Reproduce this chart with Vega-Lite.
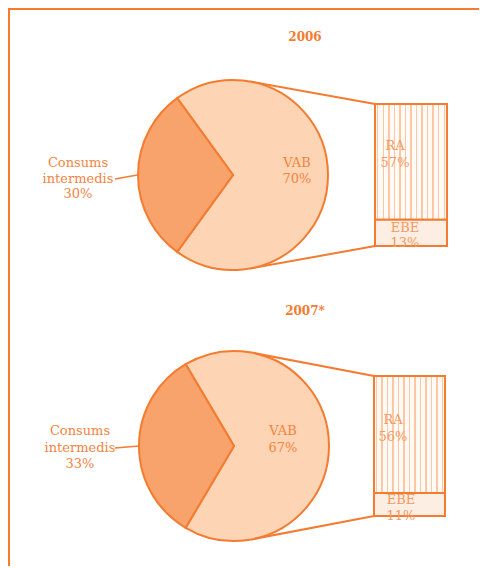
{
  "$schema": "https://vega.github.io/schema/vega-lite/v6.json",
  "padding": 0,
  "spacing": 0,
  "bounds": "flush",
  "background": "#ffffff",
  "config": {"view": {"stroke": null}, "axis": {"disable": true}, "legend": {"disable": true}},
  "datasets": {
    "dades": [
      {"any": "2006", "nivell": "total", "component": "VAB", "pct": 0.70},
      {"any": "2006", "nivell": "total", "component": "Consums intermedis", "pct": 0.30},
      {"any": "2006", "nivell": "VAB", "component": "RA", "pct": 0.57},
      {"any": "2006", "nivell": "VAB", "component": "EBE", "pct": 0.13},
      {"any": "2007*", "nivell": "total", "component": "VAB", "pct": 0.67},
      {"any": "2007*", "nivell": "total", "component": "Consums intermedis", "pct": 0.33},
      {"any": "2007*", "nivell": "VAB", "component": "RA", "pct": 0.56},
      {"any": "2007*", "nivell": "VAB", "component": "EBE", "pct": 0.11}
    ]
  },
  "data": {"name": "dades"},
  "vconcat": [
    {
      "width": 480,
      "height": 270,
      "layer": [
        {
          "data": {"values": [{"element": "marc"}]},
          "mark": {"type": "rule", "color": "#f47b30", "strokeWidth": 2},
          "encoding": {
            "x": {"datum": 1.67, "type": "quantitative", "scale": {"domain": [0, 100], "nice": false, "zero": false}},
            "x2": {"datum": 99.8},
            "y": {"datum": -0.4683, "type": "quantitative", "scale": {"domain": [0, 0.7], "range": [104, 246], "nice": false, "zero": false}}
          }
        },
        {
          "data": {"values": [{"element": "marc"}]},
          "mark": {"type": "rule", "color": "#f47b30", "strokeWidth": 2},
          "encoding": {
            "x": {"datum": 1.875, "type": "quantitative", "scale": {"domain": [0, 100], "nice": false, "zero": false}},
            "y": {"datum": -0.473, "type": "quantitative", "scale": {"domain": [0, 0.7], "range": [104, 246], "nice": false, "zero": false}},
            "y2": {"datum": 2.2775}
          }
        },
        {
          "transform": [{"filter": "datum.any == '2006' && datum.component == 'VAB'"}],
          "mark": {"type": "text", "font": "DejaVu Serif", "fontSize": 12, "fontWeight": "bold", "color": "#f47b30", "align": "center", "baseline": "alphabetic"},
          "encoding": {
            "text": {"field": "any", "type": "nominal"},
            "x": {"datum": 63.54, "type": "quantitative", "scale": {"domain": [0, 100], "nice": false, "zero": false}},
            "y": {"datum": -0.3106, "type": "quantitative", "scale": {"domain": [0, 0.7], "range": [104, 246], "nice": false, "zero": false}}
          }
        },
        {
          "transform": [{"filter": "datum.any == '2006' && datum.component == 'VAB'"}],
          "mark": {"type": "rule", "color": "#f47b30", "strokeWidth": 2},
          "encoding": {
            "x": {"datum": 52.08, "type": "quantitative", "scale": {"domain": [0, 100], "nice": false, "zero": false}},
            "x2": {"datum": 78.125},
            "y": {"datum": -0.111, "type": "quantitative", "scale": {"domain": [0, 0.7], "range": [104, 246], "nice": false, "zero": false}},
            "y2": {"datum": 0}
          }
        },
        {
          "transform": [{"filter": "datum.any == '2006' && datum.component == 'VAB'"}],
          "mark": {"type": "rule", "color": "#f47b30", "strokeWidth": 2},
          "encoding": {
            "x": {"datum": 52.08, "type": "quantitative", "scale": {"domain": [0, 100], "nice": false, "zero": false}},
            "x2": {"datum": 78.125},
            "y": {"datum": 0.811, "type": "quantitative", "scale": {"domain": [0, 0.7], "range": [104, 246], "nice": false, "zero": false}},
            "y2": {"datum": 0.7}
          }
        },
        {
          "transform": [{"filter": "datum.any == '2006' && datum.component == 'VAB'"}],
          "mark": {"type": "rule", "color": "#f47b30", "strokeWidth": 1.5},
          "encoding": {
            "x": {"datum": 23.96, "type": "quantitative", "scale": {"domain": [0, 100], "nice": false, "zero": false}},
            "x2": {"datum": 28.6},
            "y": {"datum": 0.3697, "type": "quantitative", "scale": {"domain": [0, 0.7], "range": [104, 246], "nice": false, "zero": false}},
            "y2": {"datum": 0.35}
          }
        },
        {
          "transform": [
            {"filter": "datum.any == '2006' && datum.nivell == 'total'"},
            {"stack": "pct", "groupby": ["any"], "sort": [{"field": "pct", "order": "descending"}], "as": ["t0", "t1"]}
          ],
          "mark": {"type": "arc", "outerRadius": 95, "stroke": "#f47b30", "strokeWidth": 2},
          "encoding": {
            "theta": {"field": "t0", "type": "quantitative", "scale": {"domain": [0, 1], "range": [-0.6283, 5.6549]}},
            "theta2": {"field": "t1"},
            "color": {"field": "component", "type": "nominal", "scale": {"domain": ["VAB", "Consums intermedis"], "range": ["#fdd4b4", "#f8a36b"]}, "legend": null},
            "x": {"datum": 48.54, "type": "quantitative", "stack": null, "scale": {"domain": [0, 100], "nice": false, "zero": false}},
            "y": {"datum": 0.35, "type": "quantitative", "stack": null, "scale": {"domain": [0, 0.7], "range": [104, 246], "nice": false, "zero": false}}
          }
        },
        {
          "transform": [
            {"filter": "datum.any == '2006' && datum.nivell == 'VAB'"},
            {"stack": "pct", "groupby": ["any"], "sort": [{"field": "pct", "order": "descending"}], "as": ["y0", "y1"]}
          ],
          "layer": [
            {
              "transform": [{"filter": "datum.component == 'RA'"}],
              "mark": {"type": "rect", "stroke": "#f47b30", "strokeWidth": 2,
                "fill": {"gradient": "linear", "x1": 0, "y1": 0, "x2": 1, "y2": 0, "stops": [
                  {"offset": 0, "color": "#fffaf5"},
                  {"offset": 0.0285, "color": "#fffaf5"}, {"offset": 0.0285, "color": "#fcc8a4"}, {"offset": 0.0485, "color": "#fcc8a4"}, {"offset": 0.0485, "color": "#fffaf5"},
                  {"offset": 0.1054, "color": "#fffaf5"}, {"offset": 0.1054, "color": "#fcc8a4"}, {"offset": 0.1254, "color": "#fcc8a4"}, {"offset": 0.1254, "color": "#fffaf5"},
                  {"offset": 0.1823, "color": "#fffaf5"}, {"offset": 0.1823, "color": "#fcc8a4"}, {"offset": 0.2023, "color": "#fcc8a4"}, {"offset": 0.2023, "color": "#fffaf5"},
                  {"offset": 0.2592, "color": "#fffaf5"}, {"offset": 0.2592, "color": "#fcc8a4"}, {"offset": 0.2792, "color": "#fcc8a4"}, {"offset": 0.2792, "color": "#fffaf5"},
                  {"offset": 0.3362, "color": "#fffaf5"}, {"offset": 0.3362, "color": "#fcc8a4"}, {"offset": 0.3562, "color": "#fcc8a4"}, {"offset": 0.3562, "color": "#fffaf5"},
                  {"offset": 0.4131, "color": "#fffaf5"}, {"offset": 0.4131, "color": "#fcc8a4"}, {"offset": 0.4331, "color": "#fcc8a4"}, {"offset": 0.4331, "color": "#fffaf5"},
                  {"offset": 0.4900, "color": "#fffaf5"}, {"offset": 0.4900, "color": "#fcc8a4"}, {"offset": 0.5100, "color": "#fcc8a4"}, {"offset": 0.5100, "color": "#fffaf5"},
                  {"offset": 0.5669, "color": "#fffaf5"}, {"offset": 0.5669, "color": "#fcc8a4"}, {"offset": 0.5869, "color": "#fcc8a4"}, {"offset": 0.5869, "color": "#fffaf5"},
                  {"offset": 0.6438, "color": "#fffaf5"}, {"offset": 0.6438, "color": "#fcc8a4"}, {"offset": 0.6638, "color": "#fcc8a4"}, {"offset": 0.6638, "color": "#fffaf5"},
                  {"offset": 0.7208, "color": "#fffaf5"}, {"offset": 0.7208, "color": "#fcc8a4"}, {"offset": 0.7408, "color": "#fcc8a4"}, {"offset": 0.7408, "color": "#fffaf5"},
                  {"offset": 0.7977, "color": "#fffaf5"}, {"offset": 0.7977, "color": "#fcc8a4"}, {"offset": 0.8177, "color": "#fcc8a4"}, {"offset": 0.8177, "color": "#fffaf5"},
                  {"offset": 0.8746, "color": "#fffaf5"}, {"offset": 0.8746, "color": "#fcc8a4"}, {"offset": 0.8946, "color": "#fcc8a4"}, {"offset": 0.8946, "color": "#fffaf5"},
                  {"offset": 0.9515, "color": "#fffaf5"}, {"offset": 0.9515, "color": "#fcc8a4"}, {"offset": 0.9715, "color": "#fcc8a4"}, {"offset": 0.9715, "color": "#fffaf5"},
                  {"offset": 1, "color": "#fffaf5"}
                ]}},
              "encoding": {
                "x": {"datum": 78.125, "type": "quantitative", "scale": {"domain": [0, 100], "nice": false, "zero": false}},
                "x2": {"datum": 93.125},
                "y": {"field": "y0", "type": "quantitative", "scale": {"domain": [0, 0.7], "range": [104, 246], "nice": false, "zero": false}},
                "y2": {"field": "y1"}
              }
            },
            {
              "transform": [{"filter": "datum.component == 'EBE'"}],
              "mark": {"type": "rect", "stroke": "#f47b30", "strokeWidth": 2, "fill": "#fdeee3"},
              "encoding": {
                "x": {"datum": 78.125, "type": "quantitative", "scale": {"domain": [0, 100], "nice": false, "zero": false}},
                "x2": {"datum": 93.125},
                "y": {"field": "y0", "type": "quantitative", "scale": {"domain": [0, 0.7], "range": [104, 246], "nice": false, "zero": false}},
                "y2": {"field": "y1"}
              }
            }
          ]
        },
        {
          "transform": [{"filter": "datum.any == '2006' && datum.component == 'Consums intermedis'"}],
          "mark": {"type": "text", "font": "DejaVu Serif", "fontSize": 13, "color": "#f4843f", "align": "center", "baseline": "alphabetic", "lineBreak": " ", "lineHeight": 15.5},
          "encoding": {
            "text": {"field": "component", "type": "nominal"},
            "x": {"datum": 16.25, "type": "quantitative", "scale": {"domain": [0, 100], "nice": false, "zero": false}},
            "y": {"datum": 0.3106, "type": "quantitative", "scale": {"domain": [0, 0.7], "range": [104, 246], "nice": false, "zero": false}}
          }
        },
        {
          "transform": [{"filter": "datum.any == '2006' && datum.component == 'Consums intermedis'"}],
          "mark": {"type": "text", "font": "DejaVu Serif", "fontSize": 13, "color": "#f4843f", "align": "center", "baseline": "alphabetic"},
          "encoding": {
            "text": {"field": "pct", "type": "quantitative", "format": ".0%"},
            "x": {"datum": 16.25, "type": "quantitative", "scale": {"domain": [0, 100], "nice": false, "zero": false}},
            "y": {"datum": 0.4634, "type": "quantitative", "scale": {"domain": [0, 0.7], "range": [104, 246], "nice": false, "zero": false}}
          }
        },
        {
          "transform": [{"filter": "datum.any == '2006' && datum.component == 'VAB'"}],
          "mark": {"type": "text", "font": "DejaVu Serif", "fontSize": 13, "color": "#f4843f", "align": "center", "baseline": "alphabetic"},
          "encoding": {
            "text": {"field": "component", "type": "nominal"},
            "x": {"datum": 61.875, "type": "quantitative", "scale": {"domain": [0, 100], "nice": false, "zero": false}},
            "y": {"datum": 0.3106, "type": "quantitative", "scale": {"domain": [0, 0.7], "range": [104, 246], "nice": false, "zero": false}}
          }
        },
        {
          "transform": [{"filter": "datum.any == '2006' && datum.component == 'VAB'"}],
          "mark": {"type": "text", "font": "DejaVu Serif", "fontSize": 13, "color": "#f4843f", "align": "center", "baseline": "alphabetic"},
          "encoding": {
            "text": {"field": "pct", "type": "quantitative", "format": ".0%"},
            "x": {"datum": 61.875, "type": "quantitative", "scale": {"domain": [0, 100], "nice": false, "zero": false}},
            "y": {"datum": 0.3894, "type": "quantitative", "scale": {"domain": [0, 0.7], "range": [104, 246], "nice": false, "zero": false}}
          }
        },
        {
          "transform": [{"filter": "datum.any == '2006' && datum.component == 'RA'"}],
          "mark": {"type": "text", "font": "DejaVu Serif", "fontSize": 13, "color": "#f7995f", "align": "center", "baseline": "alphabetic"},
          "encoding": {
            "text": {"field": "component", "type": "nominal"},
            "x": {"datum": 82.3, "type": "quantitative", "scale": {"domain": [0, 100], "nice": false, "zero": false}},
            "y": {"datum": 0.2268, "type": "quantitative", "scale": {"domain": [0, 0.7], "range": [104, 246], "nice": false, "zero": false}}
          }
        },
        {
          "transform": [{"filter": "datum.any == '2006' && datum.component == 'RA'"}],
          "mark": {"type": "text", "font": "DejaVu Serif", "fontSize": 13, "color": "#f7995f", "align": "center", "baseline": "alphabetic"},
          "encoding": {
            "text": {"field": "pct", "type": "quantitative", "format": ".0%"},
            "x": {"datum": 82.3, "type": "quantitative", "scale": {"domain": [0, 100], "nice": false, "zero": false}},
            "y": {"datum": 0.3106, "type": "quantitative", "scale": {"domain": [0, 0.7], "range": [104, 246], "nice": false, "zero": false}}
          }
        },
        {
          "transform": [{"filter": "datum.any == '2006' && datum.component == 'EBE'"}],
          "mark": {"type": "text", "font": "DejaVu Serif", "fontSize": 13, "color": "#f7995f", "align": "center", "baseline": "alphabetic"},
          "encoding": {
            "text": {"field": "component", "type": "nominal"},
            "x": {"datum": 84.375, "type": "quantitative", "scale": {"domain": [0, 100], "nice": false, "zero": false}},
            "y": {"datum": 0.631, "type": "quantitative", "scale": {"domain": [0, 0.7], "range": [104, 246], "nice": false, "zero": false}}
          }
        },
        {
          "transform": [{"filter": "datum.any == '2006' && datum.component == 'EBE'"}],
          "mark": {"type": "text", "font": "DejaVu Serif", "fontSize": 13, "color": "#f7995f", "align": "center", "baseline": "alphabetic"},
          "encoding": {
            "text": {"field": "pct", "type": "quantitative", "format": ".0%"},
            "x": {"datum": 84.375, "type": "quantitative", "scale": {"domain": [0, 100], "nice": false, "zero": false}},
            "y": {"datum": 0.705, "type": "quantitative", "scale": {"domain": [0, 0.7], "range": [104, 246], "nice": false, "zero": false}}
          }
        }
      ]
    },
    {
      "width": 480,
      "height": 298,
      "layer": [
        {
          "transform": [{"filter": "datum.any == '2007*' && datum.component == 'VAB'"}],
          "mark": {"type": "text", "font": "DejaVu Serif", "fontSize": 12, "fontWeight": "bold", "color": "#f47b30", "align": "center", "baseline": "alphabetic"},
          "encoding": {
            "text": {"field": "any", "type": "nominal"},
            "x": {"datum": 63.54, "type": "quantitative", "scale": {"domain": [0, 100], "nice": false, "zero": false}},
            "y": {"datum": -0.2919, "type": "quantitative", "scale": {"domain": [0, 0.67], "range": [106, 246], "nice": false, "zero": false}}
          }
        },
        {
          "transform": [{"filter": "datum.any == '2007*' && datum.component == 'VAB'"}],
          "mark": {"type": "rule", "color": "#f47b30", "strokeWidth": 2},
          "encoding": {
            "x": {"datum": 52.46, "type": "quantitative", "scale": {"domain": [0, 100], "nice": false, "zero": false}},
            "x2": {"datum": 77.92},
            "y": {"datum": -0.1115, "type": "quantitative", "scale": {"domain": [0, 0.67], "range": [106, 246], "nice": false, "zero": false}},
            "y2": {"datum": 0}
          }
        },
        {
          "transform": [{"filter": "datum.any == '2007*' && datum.component == 'VAB'"}],
          "mark": {"type": "rule", "color": "#f47b30", "strokeWidth": 2},
          "encoding": {
            "x": {"datum": 52.46, "type": "quantitative", "scale": {"domain": [0, 100], "nice": false, "zero": false}},
            "x2": {"datum": 77.92},
            "y": {"datum": 0.7815, "type": "quantitative", "scale": {"domain": [0, 0.67], "range": [106, 246], "nice": false, "zero": false}},
            "y2": {"datum": 0.67}
          }
        },
        {
          "transform": [{"filter": "datum.any == '2007*' && datum.component == 'VAB'"}],
          "mark": {"type": "rule", "color": "#f47b30", "strokeWidth": 1.5},
          "encoding": {
            "x": {"datum": 23.96, "type": "quantitative", "scale": {"domain": [0, 100], "nice": false, "zero": false}},
            "x2": {"datum": 29.0},
            "y": {"datum": 0.3446, "type": "quantitative", "scale": {"domain": [0, 0.67], "range": [106, 246], "nice": false, "zero": false}},
            "y2": {"datum": 0.335}
          }
        },
        {
          "transform": [
            {"filter": "datum.any == '2007*' && datum.nivell == 'total'"},
            {"stack": "pct", "groupby": ["any"], "sort": [{"field": "pct", "order": "descending"}], "as": ["t0", "t1"]}
          ],
          "mark": {"type": "arc", "outerRadius": 95, "stroke": "#f47b30", "strokeWidth": 2},
          "encoding": {
            "theta": {"field": "t0", "type": "quantitative", "scale": {"domain": [0, 1], "range": [-0.5341, 5.7491]}},
            "theta2": {"field": "t1"},
            "color": {"field": "component", "type": "nominal", "scale": {"domain": ["VAB", "Consums intermedis"], "range": ["#fdd4b4", "#f8a36b"]}, "legend": null},
            "x": {"datum": 48.75, "type": "quantitative", "stack": null, "scale": {"domain": [0, 100], "nice": false, "zero": false}},
            "y": {"datum": 0.335, "type": "quantitative", "stack": null, "scale": {"domain": [0, 0.67], "range": [106, 246], "nice": false, "zero": false}}
          }
        },
        {
          "transform": [
            {"filter": "datum.any == '2007*' && datum.nivell == 'VAB'"},
            {"stack": "pct", "groupby": ["any"], "sort": [{"field": "pct", "order": "descending"}], "as": ["y0", "y1"]}
          ],
          "layer": [
            {
              "transform": [{"filter": "datum.component == 'RA'"}],
              "mark": {"type": "rect", "stroke": "#f47b30", "strokeWidth": 2,
                "fill": {"gradient": "linear", "x1": 0, "y1": 0, "x2": 1, "y2": 0, "stops": [
                  {"offset": 0, "color": "#fffaf5"},
                  {"offset": 0.0285, "color": "#fffaf5"}, {"offset": 0.0285, "color": "#fcc8a4"}, {"offset": 0.0485, "color": "#fcc8a4"}, {"offset": 0.0485, "color": "#fffaf5"},
                  {"offset": 0.1054, "color": "#fffaf5"}, {"offset": 0.1054, "color": "#fcc8a4"}, {"offset": 0.1254, "color": "#fcc8a4"}, {"offset": 0.1254, "color": "#fffaf5"},
                  {"offset": 0.1823, "color": "#fffaf5"}, {"offset": 0.1823, "color": "#fcc8a4"}, {"offset": 0.2023, "color": "#fcc8a4"}, {"offset": 0.2023, "color": "#fffaf5"},
                  {"offset": 0.2592, "color": "#fffaf5"}, {"offset": 0.2592, "color": "#fcc8a4"}, {"offset": 0.2792, "color": "#fcc8a4"}, {"offset": 0.2792, "color": "#fffaf5"},
                  {"offset": 0.3362, "color": "#fffaf5"}, {"offset": 0.3362, "color": "#fcc8a4"}, {"offset": 0.3562, "color": "#fcc8a4"}, {"offset": 0.3562, "color": "#fffaf5"},
                  {"offset": 0.4131, "color": "#fffaf5"}, {"offset": 0.4131, "color": "#fcc8a4"}, {"offset": 0.4331, "color": "#fcc8a4"}, {"offset": 0.4331, "color": "#fffaf5"},
                  {"offset": 0.4900, "color": "#fffaf5"}, {"offset": 0.4900, "color": "#fcc8a4"}, {"offset": 0.5100, "color": "#fcc8a4"}, {"offset": 0.5100, "color": "#fffaf5"},
                  {"offset": 0.5669, "color": "#fffaf5"}, {"offset": 0.5669, "color": "#fcc8a4"}, {"offset": 0.5869, "color": "#fcc8a4"}, {"offset": 0.5869, "color": "#fffaf5"},
                  {"offset": 0.6438, "color": "#fffaf5"}, {"offset": 0.6438, "color": "#fcc8a4"}, {"offset": 0.6638, "color": "#fcc8a4"}, {"offset": 0.6638, "color": "#fffaf5"},
                  {"offset": 0.7208, "color": "#fffaf5"}, {"offset": 0.7208, "color": "#fcc8a4"}, {"offset": 0.7408, "color": "#fcc8a4"}, {"offset": 0.7408, "color": "#fffaf5"},
                  {"offset": 0.7977, "color": "#fffaf5"}, {"offset": 0.7977, "color": "#fcc8a4"}, {"offset": 0.8177, "color": "#fcc8a4"}, {"offset": 0.8177, "color": "#fffaf5"},
                  {"offset": 0.8746, "color": "#fffaf5"}, {"offset": 0.8746, "color": "#fcc8a4"}, {"offset": 0.8946, "color": "#fcc8a4"}, {"offset": 0.8946, "color": "#fffaf5"},
                  {"offset": 0.9515, "color": "#fffaf5"}, {"offset": 0.9515, "color": "#fcc8a4"}, {"offset": 0.9715, "color": "#fcc8a4"}, {"offset": 0.9715, "color": "#fffaf5"},
                  {"offset": 1, "color": "#fffaf5"}
                ]}},
              "encoding": {
                "x": {"datum": 77.92, "type": "quantitative", "scale": {"domain": [0, 100], "nice": false, "zero": false}},
                "x2": {"datum": 92.71},
                "y": {"field": "y0", "type": "quantitative", "scale": {"domain": [0, 0.67], "range": [106, 246], "nice": false, "zero": false}},
                "y2": {"field": "y1"}
              }
            },
            {
              "transform": [{"filter": "datum.component == 'EBE'"}],
              "mark": {"type": "rect", "stroke": "#f47b30", "strokeWidth": 2, "fill": "#fdeee3"},
              "encoding": {
                "x": {"datum": 77.92, "type": "quantitative", "scale": {"domain": [0, 100], "nice": false, "zero": false}},
                "x2": {"datum": 92.71},
                "y": {"field": "y0", "type": "quantitative", "scale": {"domain": [0, 0.67], "range": [106, 246], "nice": false, "zero": false}},
                "y2": {"field": "y1"}
              }
            }
          ]
        },
        {
          "transform": [{"filter": "datum.any == '2007*' && datum.component == 'Consums intermedis'"}],
          "mark": {"type": "text", "font": "DejaVu Serif", "fontSize": 13, "color": "#f4843f", "align": "center", "baseline": "alphabetic", "lineBreak": " ", "lineHeight": 16.5},
          "encoding": {
            "text": {"field": "component", "type": "nominal"},
            "x": {"datum": 16.67, "type": "quantitative", "scale": {"domain": [0, 100], "nice": false, "zero": false}},
            "y": {"datum": 0.2824, "type": "quantitative", "scale": {"domain": [0, 0.67], "range": [106, 246], "nice": false, "zero": false}}
          }
        },
        {
          "transform": [{"filter": "datum.any == '2007*' && datum.component == 'Consums intermedis'"}],
          "mark": {"type": "text", "font": "DejaVu Serif", "fontSize": 13, "color": "#f4843f", "align": "center", "baseline": "alphabetic"},
          "encoding": {
            "text": {"field": "pct", "type": "quantitative", "format": ".0%"},
            "x": {"datum": 16.67, "type": "quantitative", "scale": {"domain": [0, 100], "nice": false, "zero": false}},
            "y": {"datum": 0.4403, "type": "quantitative", "scale": {"domain": [0, 0.67], "range": [106, 246], "nice": false, "zero": false}}
          }
        },
        {
          "transform": [{"filter": "datum.any == '2007*' && datum.component == 'VAB'"}],
          "mark": {"type": "text", "font": "DejaVu Serif", "fontSize": 13, "color": "#f4843f", "align": "center", "baseline": "alphabetic"},
          "encoding": {
            "text": {"field": "component", "type": "nominal"},
            "x": {"datum": 58.96, "type": "quantitative", "scale": {"domain": [0, 100], "nice": false, "zero": false}},
            "y": {"datum": 0.2824, "type": "quantitative", "scale": {"domain": [0, 0.67], "range": [106, 246], "nice": false, "zero": false}}
          }
        },
        {
          "transform": [{"filter": "datum.any == '2007*' && datum.component == 'VAB'"}],
          "mark": {"type": "text", "font": "DejaVu Serif", "fontSize": 13, "color": "#f4843f", "align": "center", "baseline": "alphabetic"},
          "encoding": {
            "text": {"field": "pct", "type": "quantitative", "format": ".0%"},
            "x": {"datum": 58.96, "type": "quantitative", "scale": {"domain": [0, 100], "nice": false, "zero": false}},
            "y": {"datum": 0.3637, "type": "quantitative", "scale": {"domain": [0, 0.67], "range": [106, 246], "nice": false, "zero": false}}
          }
        },
        {
          "transform": [{"filter": "datum.any == '2007*' && datum.component == 'RA'"}],
          "mark": {"type": "text", "font": "DejaVu Serif", "fontSize": 13, "color": "#f7995f", "align": "center", "baseline": "alphabetic"},
          "encoding": {
            "text": {"field": "component", "type": "nominal"},
            "x": {"datum": 81.875, "type": "quantitative", "scale": {"domain": [0, 100], "nice": false, "zero": false}},
            "y": {"datum": 0.2297, "type": "quantitative", "scale": {"domain": [0, 0.67], "range": [106, 246], "nice": false, "zero": false}}
          }
        },
        {
          "transform": [{"filter": "datum.any == '2007*' && datum.component == 'RA'"}],
          "mark": {"type": "text", "font": "DejaVu Serif", "fontSize": 13, "color": "#f7995f", "align": "center", "baseline": "alphabetic"},
          "encoding": {
            "text": {"field": "pct", "type": "quantitative", "format": ".0%"},
            "x": {"datum": 81.875, "type": "quantitative", "scale": {"domain": [0, 100], "nice": false, "zero": false}},
            "y": {"datum": 0.3111, "type": "quantitative", "scale": {"domain": [0, 0.67], "range": [106, 246], "nice": false, "zero": false}}
          }
        },
        {
          "transform": [{"filter": "datum.any == '2007*' && datum.component == 'EBE'"}],
          "mark": {"type": "text", "font": "DejaVu Serif", "fontSize": 13, "color": "#f7995f", "align": "center", "baseline": "alphabetic"},
          "encoding": {
            "text": {"field": "component", "type": "nominal"},
            "x": {"datum": 83.54, "type": "quantitative", "scale": {"domain": [0, 100], "nice": false, "zero": false}},
            "y": {"datum": 0.6126, "type": "quantitative", "scale": {"domain": [0, 0.67], "range": [106, 246], "nice": false, "zero": false}}
          }
        },
        {
          "transform": [{"filter": "datum.any == '2007*' && datum.component == 'EBE'"}],
          "mark": {"type": "text", "font": "DejaVu Serif", "fontSize": 13, "color": "#f7995f", "align": "center", "baseline": "alphabetic"},
          "encoding": {
            "text": {"field": "pct", "type": "quantitative", "format": ".0%"},
            "x": {"datum": 83.54, "type": "quantitative", "scale": {"domain": [0, 100], "nice": false, "zero": false}},
            "y": {"datum": 0.6891, "type": "quantitative", "scale": {"domain": [0, 0.67], "range": [106, 246], "nice": false, "zero": false}}
          }
        }
      ]
    }
  ]
}
